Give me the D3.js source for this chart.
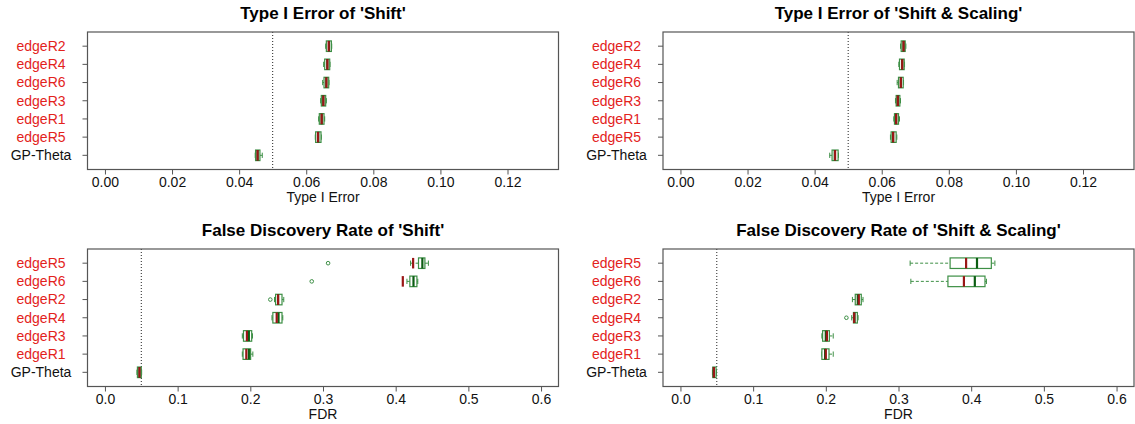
<!DOCTYPE html>
<html>
<head>
<meta charset="utf-8">
<script src="https://cdn.jsdelivr.net/npm/d3@7"></script>
<style>
  body { margin: 0; background: #fff; }
  svg { font-family: "Liberation Sans", Arial, sans-serif; }
</style>
</head>
<body>
<div id="chart"></div>
<script>
// method order, top to bottom
var typeIMethods = ["edgeR2", "edgeR4", "edgeR6", "edgeR3", "edgeR1", "edgeR5", "GP-Theta"];
var fdrMethods = ["edgeR5", "edgeR6", "edgeR2", "edgeR4", "edgeR3", "edgeR1", "GP-Theta"];

// box stats: [lower whisker, q1, median, q3, upper whisker]
var typeIShiftStats = [
  [0.0658, 0.0660, 0.0668, 0.0675, 0.0676],
  [0.0652, 0.0655, 0.0663, 0.0670, 0.0671],
  [0.0649, 0.0653, 0.0660, 0.0667, 0.0668],
  [0.0643, 0.0645, 0.0651, 0.0658, 0.0660],
  [0.0637, 0.0639, 0.0646, 0.0653, 0.0655],
  [0.0627, 0.0628, 0.0636, 0.0644, 0.0645],
  [0.0448, 0.0449, 0.0455, 0.0462, 0.0469]
];
var typeIShiftRed = [0.0667, 0.0663, 0.0660, 0.0651, 0.0646, 0.0635, 0.0455];

var typeIScaleStats = [
  [0.0656, 0.0658, 0.0665, 0.0670, 0.0672],
  [0.0651, 0.0653, 0.0661, 0.0667, 0.0668],
  [0.0646, 0.0650, 0.0657, 0.0664, 0.0665],
  [0.0641, 0.0643, 0.0648, 0.0654, 0.0656],
  [0.0636, 0.0638, 0.0643, 0.0650, 0.0653],
  [0.0626, 0.0628, 0.0634, 0.0643, 0.0645],
  [0.0445, 0.0452, 0.0460, 0.0470, 0.0471]
];
var typeIScaleRed = [0.0665, 0.0661, 0.0657, 0.0648, 0.0643, 0.0634, 0.0461];

var fdrShiftStats = [
  [0.4205, 0.4314, 0.4367, 0.4402, 0.4450],
  [0.4155, 0.4195, 0.4245, 0.4292, 0.4304],
  [0.2333, 0.2348, 0.2382, 0.2436, 0.2460],
  [0.2298, 0.2310, 0.2388, 0.2436, 0.2447],
  [0.1890, 0.1906, 0.1980, 0.2019, 0.2030],
  [0.1890, 0.1900, 0.1980, 0.2004, 0.2035],
  [0.0440, 0.0447, 0.0475, 0.0500, 0.0505]
];
var fdrShiftRed = [0.4240, 0.4098, 0.2382, 0.2363, 0.1953, 0.1945, 0.0475];
var fdrShiftOutliers = [[0.307], [0.2845], [0.2275], [], [], [], []];

var fdrScaleStats = [
  [0.316, 0.371, 0.408, 0.4277, 0.4326],
  [0.317, 0.368, 0.405, 0.4190, 0.4210],
  [0.2366, 0.2405, 0.2440, 0.2488, 0.2512],
  [0.2356, 0.2380, 0.2395, 0.2434, 0.2444],
  [0.1946, 0.1956, 0.2000, 0.2049, 0.2102],
  [0.1946, 0.1946, 0.1990, 0.2044, 0.2102],
  [0.0440, 0.0445, 0.0460, 0.0490, 0.0495]
];
var fdrScaleRed = [0.393, 0.390, 0.2454, 0.2390, 0.2015, 0.2000, 0.0460];
var fdrScaleOutliers = [[], [], [], [0.2283], [], [], []];

var typeITicks = [0, 0.02, 0.04, 0.06, 0.08, 0.10, 0.12];
var fdrTicks = [0, 0.1, 0.2, 0.3, 0.4, 0.5, 0.6];

var panels = [
  {title: "Type I Error of 'Shift'", xlab: "Type I Error", methods: typeIMethods,
   stats: typeIShiftStats, red: typeIShiftRed, out: null, xlim: [0, 0.13], ticks: typeITicks, fmt: ".2f",
   left: 87.5, top: 32},
  {title: "Type I Error of 'Shift & Scaling'", xlab: "Type I Error", methods: typeIMethods,
   stats: typeIScaleStats, red: typeIScaleRed, out: null, xlim: [0, 0.13], ticks: typeITicks, fmt: ".2f",
   left: 663, top: 32},
  {title: "False Discovery Rate of 'Shift'", xlab: "FDR", methods: fdrMethods,
   stats: fdrShiftStats, red: fdrShiftRed, out: fdrShiftOutliers, xlim: [0, 0.6], ticks: fdrTicks, fmt: ".1f",
   left: 87.5, top: 249},
  {title: "False Discovery Rate of 'Shift & Scaling'", xlab: "FDR", methods: fdrMethods,
   stats: fdrScaleStats, red: fdrScaleRed, out: fdrScaleOutliers, xlim: [0, 0.6], ticks: fdrTicks, fmt: ".1f",
   left: 663, top: 249}
];

var width = 471, height = 137.5;
var green = "#3d8f45", darkGreen = "#0b5d12", darkRed = "#9a1616", labelRed = "#e3221c";

var svg = d3.select("#chart").append("svg")
  .attr("width", 1135)
  .attr("height", 424);

panels.forEach(function(p) {
  var g = svg.append("g").attr("transform", "translate(" + p.left + "," + p.top + ")");
  var n = p.methods.length;

  // R style 4% axis extension
  var pad = (p.xlim[1] - p.xlim[0]) * 0.04;
  var x = d3.scaleLinear().domain([p.xlim[0] - pad, p.xlim[1] + pad]).range([0, width]);
  var ypad = n * 0.04;
  var y = d3.scaleLinear().domain([0.5 - ypad, n + 0.5 + ypad]).range([height, 0]);
  var pos = function(i) { return y(n - i); };
  var bh = 0.58 * (y(0) - y(1));

  // title
  g.append("text")
    .attr("x", width / 2)
    .attr("y", -13)
    .attr("text-anchor", "middle")
    .style("font-size", "17px")
    .style("font-weight", "bold")
    .text(p.title);

  // x axis
  var xAxis = g.append("g")
    .attr("transform", "translate(0," + height + ")")
    .call(d3.axisBottom(x).tickValues(p.ticks).tickFormat(d3.format(p.fmt)).tickSize(5).tickPadding(3));
  xAxis.select(".domain").remove();
  xAxis.selectAll(".tick line").attr("stroke", "#555");
  xAxis.selectAll(".tick text").style("font-size", "14px").attr("fill", "#111");

  g.append("text")
    .attr("x", width / 2)
    .attr("y", height + 32)
    .attr("text-anchor", "middle")
    .style("font-size", "14px")
    .attr("fill", "#111")
    .text(p.xlab);

  // y ticks and labels
  p.methods.forEach(function(m, i) {
    g.append("line")
      .attr("x1", -5).attr("x2", 0)
      .attr("y1", pos(i)).attr("y2", pos(i))
      .attr("stroke", "#555");
    g.append("text")
      .attr("x", -46.5)
      .attr("y", pos(i))
      .attr("dy", "0.35em")
      .attr("text-anchor", "middle")
      .style("font-size", "14px")
      .attr("fill", m === "GP-Theta" ? "#111" : labelRed)
      .text(m);
  });

  // reference line at 0.05
  g.append("line")
    .attr("x1", x(0.05)).attr("x2", x(0.05))
    .attr("y1", 0).attr("y2", height)
    .attr("stroke", "#222")
    .attr("stroke-width", 1)
    .attr("stroke-dasharray", "1,2");

  // boxes
  var rows = g.selectAll(".row")
    .data(p.stats)
    .enter()
    .append("g")
    .attr("class", "row");

  rows.append("line")
    .attr("x1", function(d) { return x(d[0]); })
    .attr("x2", function(d) { return x(d[1]); })
    .attr("y1", function(d, i) { return pos(i); })
    .attr("y2", function(d, i) { return pos(i); })
    .attr("stroke", green).attr("stroke-dasharray", "3,2");
  rows.append("line")
    .attr("x1", function(d) { return x(d[3]); })
    .attr("x2", function(d) { return x(d[4]); })
    .attr("y1", function(d, i) { return pos(i); })
    .attr("y2", function(d, i) { return pos(i); })
    .attr("stroke", green).attr("stroke-dasharray", "3,2");
  [0, 4].forEach(function(k) {
    rows.append("line")
      .attr("x1", function(d) { return x(d[k]); })
      .attr("x2", function(d) { return x(d[k]); })
      .attr("y1", function(d, i) { return pos(i) - bh / 4; })
      .attr("y2", function(d, i) { return pos(i) + bh / 4; })
      .attr("stroke", green);
  });
  rows.append("rect")
    .attr("x", function(d) { return x(d[1]); })
    .attr("width", function(d) { return x(d[3]) - x(d[1]); })
    .attr("y", function(d, i) { return pos(i) - bh / 2; })
    .attr("height", bh)
    .attr("fill", "#fff")
    .attr("stroke", green)
    .attr("stroke-width", 1.2);
  rows.append("line")
    .attr("x1", function(d) { return x(d[2]); })
    .attr("x2", function(d) { return x(d[2]); })
    .attr("y1", function(d, i) { return pos(i) - bh / 2; })
    .attr("y2", function(d, i) { return pos(i) + bh / 2; })
    .attr("stroke", darkGreen)
    .attr("stroke-width", 2.2);
  rows.append("line")
    .attr("x1", function(d, i) { return x(p.red[i]); })
    .attr("x2", function(d, i) { return x(p.red[i]); })
    .attr("y1", function(d, i) { return pos(i) - bh / 2; })
    .attr("y2", function(d, i) { return pos(i) + bh / 2; })
    .attr("stroke", darkRed)
    .attr("stroke-width", 2.2);

  if (p.out) {
    p.out.forEach(function(vals, i) {
      vals.forEach(function(v) {
        g.append("circle")
          .attr("cx", x(v)).attr("cy", pos(i))
          .attr("r", 1.8)
          .attr("fill", "none")
          .attr("stroke", green);
      });
    });
  }

  // frame
  g.append("rect")
    .attr("width", width).attr("height", height)
    .attr("fill", "none")
    .attr("stroke", "#555")
    .attr("stroke-width", 1.2);
});
</script>
</body>
</html>
